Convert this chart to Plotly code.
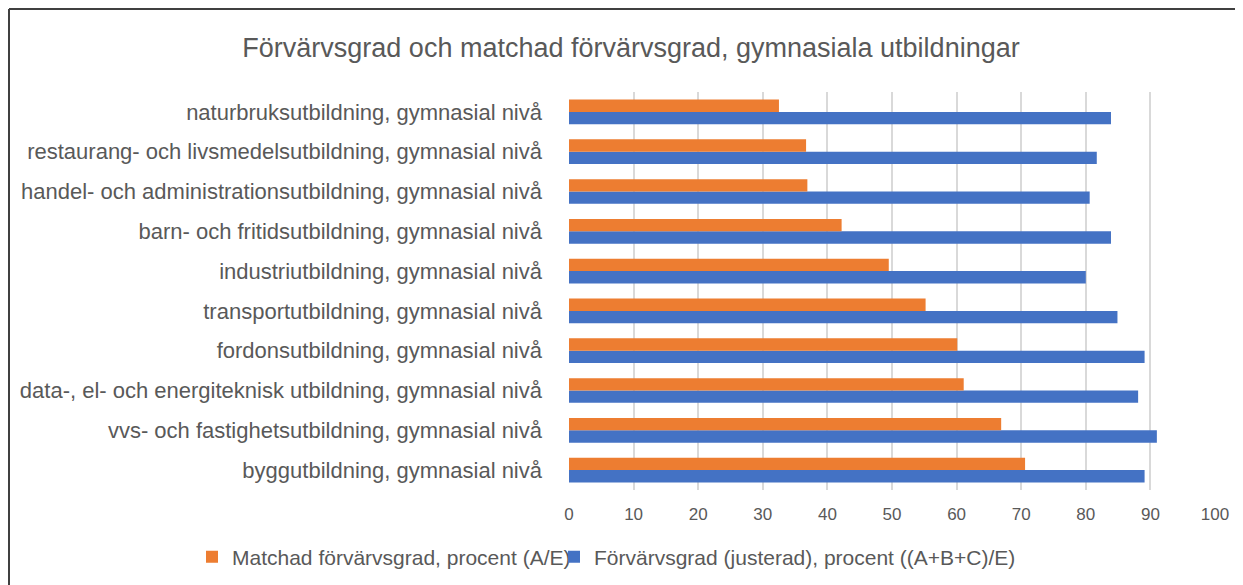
import plotly.graph_objects as go

categories = [
    "byggutbildning, gymnasial nivå",
    "vvs- och fastighetsutbildning, gymnasial nivå",
    "data-, el- och energiteknisk utbildning, gymnasial nivå",
    "fordonsutbildning, gymnasial nivå",
    "transportutbildning, gymnasial nivå",
    "industriutbildning, gymnasial nivå",
    "barn- och fritidsutbildning, gymnasial nivå",
    "handel- och administrationsutbildning, gymnasial nivå",
    "restaurang- och livsmedelsutbildning, gymnasial nivå",
    "naturbruksutbildning, gymnasial nivå",
]
matchad = [70.6, 66.9, 61.1, 60.1, 55.2, 49.5, 42.2, 36.9, 36.7, 32.5]
forvarvsgrad = [89.1, 91.0, 88.1, 89.1, 84.9, 80.0, 83.9, 80.6, 81.7, 83.9]
x_ticks = [0, 10, 20, 30, 40, 50, 60, 70, 80, 90, 100]

name_matchad = "Matchad förvärvsgrad, procent (A/E)"
name_forv = "Förvärvsgrad (justerad), procent ((A+B+C)/E)"

# page has an 8px body margin; figure sized to fit the remaining window
W, H = 1235, 577
L, R, T, B = 561, 28, 84, 95
pw, ph = W - L - R, H - T - B

font_family = "Liberation Sans, Arial, sans-serif"
txt = "#595959"

fig = go.Figure()
fig.add_trace(go.Bar(
    y=categories, x=forvarvsgrad, orientation="h", name=name_forv,
    marker=dict(color="#4472C4", line=dict(color="#4472C4", width=0)),
    legend="legend2",
))
fig.add_trace(go.Bar(
    y=categories, x=matchad, orientation="h", name=name_matchad,
    marker=dict(color="#ED7D31", line=dict(color="#ED7D31", width=0)),
    legend="legend",
))

def px_x(px):
    return (px - L) / pw

def px_y(py):
    return (H - B - py) / ph

legend_common = dict(
    orientation="h", xanchor="left", yref="paper", y=px_y(549),
    yanchor="middle", font=dict(size=21, color=txt), itemwidth=30,
    bgcolor="rgba(0,0,0,0)",
)

fig.update_layout(
    width=W, height=H,
    margin=dict(l=L, r=R, t=T, b=B, autoexpand=False),
    paper_bgcolor="white", plot_bgcolor="white",
    barmode="group", bargap=0.38, bargroupgap=0,
    font=dict(family=font_family, color=txt),
    title=dict(
        text="Förvärvsgrad och matchad förvärvsgrad, gymnasiala utbildningar",
        font=dict(size=27, color=txt, family=font_family),
        xref="container", x=623 / W, xanchor="center",
        yref="container", y=1 - 40 / H, yanchor="middle",
    ),
    xaxis=dict(
        range=[0, 100], tickvals=x_ticks, showgrid=True, gridcolor="#d9d9d9",
        gridwidth=1.5, zeroline=False, showline=False, ticks="",
        tickfont=dict(size=17, color=txt), ticklabelstandoff=12,
    ),
    yaxis=dict(
        showgrid=False, zeroline=False, showline=False, ticks="",
        tickfont=dict(size=22, color=txt), ticklabelstandoff=26,
    ),
    legend=dict(xref="paper", x=px_x(184), **legend_common),
    legend2=dict(xref="paper", x=px_x(546), **legend_common),
    showlegend=True,
    shapes=[
        dict(type="line", xref="paper", yref="paper",
             x0=px_x(1), x1=px_x(1260), y0=px_y(1), y1=px_y(1),
             line=dict(color="#404040", width=2)),
        dict(type="line", xref="paper", yref="paper",
             x0=px_x(1), x1=px_x(1), y0=px_y(1), y1=px_y(600),
             line=dict(color="#404040", width=2)),
    ],
)

fig.write_html("out.html")
